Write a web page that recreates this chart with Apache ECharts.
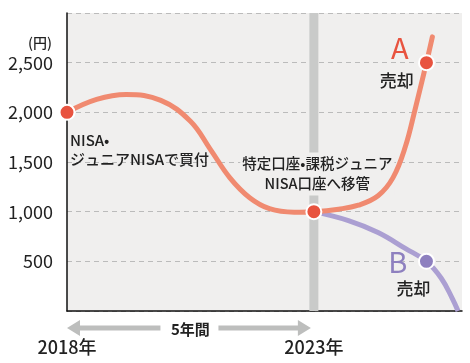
<!DOCTYPE html>
<html><head><meta charset="utf-8">
<script src="https://cdn.jsdelivr.net/npm/echarts@6/dist/echarts.min.js"></script>
<style>html,body{margin:0;padding:0;background:#fff}#c{width:470px;height:363px}</style>
</head><body><div id="c"></div>
<script>
// Curve A (years, 円)
const aYears = [2018, 2018.6, 2019.2, 2019.9, 2020.5, 2020.9, 2021.3, 2021.7, 2022.1, 2022.6, 2023, 2023.5, 2023.9, 2024.3, 2024.6, 2024.85, 2025.05, 2025.28, 2025.4];
const aValues = [2000, 2130, 2180, 2120, 1910, 1630, 1340, 1140, 1030, 995, 1000, 1025, 1065, 1160, 1340, 1650, 2030, 2500, 2760];
// Curve B
const bYears = [2023, 2023.7, 2024.3, 2024.85, 2025.28, 2025.58, 2025.8, 2025.92];
const bValues = [1000, 910, 790, 630, 500, 330, 130, 0];
// Marked points
const redDots = [[2018, 2000], [2023, 1000], [2025.28, 2500]];
const purpleDots = [[2025.28, 500]];
const yearTicks = [2018, 2023];
const yTicks = [500, 1000, 1500, 2000, 2500];

const FONT = '"Noto Sans CJK JP", "Noto Sans", sans-serif';
const chart = echarts.init(document.getElementById('c'), null, {renderer: 'canvas'});
const zip = (xs, ys) => xs.map((x, i) => [x, ys[i]]);

chart.setOption({
  animation: false,
  textStyle: {fontFamily: FONT},
  grid: {left: 67, right: 8, top: 13, bottom: 52, show: true, backgroundColor: '#f0efee', borderWidth: 0},
  xAxis: {
    type: 'value', min: 2018, max: 2026,
    axisLine: {show: true, onZero: false, lineStyle: {color: '#111', width: 1.5}},
    axisTick: {show: false},
    splitLine: {show: false},
    axisLabel: {
      customValues: yearTicks, margin: 27, fontSize: 18, color: '#222', fontFamily: FONT, fontWeight: 500,
      formatter: v => v + '年'
    }
  },
  yAxis: {
    type: 'value', min: 0, max: 3000, interval: 500,
    axisLine: {show: true, lineStyle: {color: '#111', width: 1.5}},
    axisTick: {show: false},
    splitLine: {show: true, lineStyle: {color: '#bbbbbb', type: [5, 4], width: 1}},
    axisLabel: {
      margin: 14, fontSize: 18, color: '#222', fontFamily: FONT,
      formatter: v => yTicks.includes(v) ? v.toLocaleString('en-US') : ''
    }
  },
  series: [
    {type: 'line', data: [[2023, 0], [2023, 3000]], symbol: 'none', silent: true, z: 1,
     lineStyle: {color: '#c9cac9', width: 9}},
    {type: 'line', data: zip(bYears, bValues), smooth: 0.4, symbol: 'none', z: 3,
     lineStyle: {color: '#ab9fd2', width: 5}},
    {type: 'line', data: zip(aYears, aValues), smooth: 0.4, symbol: 'none', z: 4,
     lineStyle: {color: '#f08a70', width: 5, cap: 'round'}},
    {type: 'scatter', data: redDots, symbolSize: 15, z: 5,
     itemStyle: {color: '#e8533f', borderColor: '#fff', borderWidth: 2, opacity: 1}},
    {type: 'scatter', data: purpleDots, symbolSize: 15, z: 5,
     itemStyle: {color: '#8e80bf', borderColor: '#fff', borderWidth: 2, opacity: 1}}
  ]
});

const P = (x, y) => chart.convertToPixel({gridIndex: 0}, [x, y]);
const txt = (x, y, text, o) => {
  const p = P(x, y);
  return {type: 'text', z: o.z || 10, x: p[0] + (o.dx || 0), y: p[1], style: Object.assign({
    text, fontFamily: FONT, fontSize: 15, fill: '#222', fontWeight: 500,
    align: 'center', verticalAlign: 'middle'
  }, o.style || {})};
};
const arrowY = -170;
const a0 = P(2018, arrowY), a1 = P(2023, arrowY);
const mid = (a0[0] + a1[0]) / 2;
const ay = a0[1];
const gray = '#bdbebd';
chart.setOption({graphic: [
  txt(2018, 1620, 'NISA•\nジュニアNISAで買付', {dx: 3, style: {align: 'left', lineHeight: 19}}),
  txt(2023.07, 1380, '特定口座•課税ジュニア\nNISA口座へ移管', {z: 2, style: {fontSize: 14.5, lineHeight: 20, backgroundColor: '#f0efee', padding: [2, 2, 1, 2]}}),
  txt(2024.74, 2650, 'A', {style: {fontSize: 29, fill: '#e8533f', fontWeight: 400}}),
  txt(2024.68, 2320, '売却', {style: {fontSize: 17}}),
  txt(2024.70, 490, 'B', {style: {fontSize: 29, fill: '#8e80bf', fontWeight: 400}}),
  txt(2025.02, 230, '売却', {style: {fontSize: 17}}),
  txt(2018, 2700, '(円)', {dx: -27, style: {fontSize: 14}}),
  txt(2020.5, arrowY - 10, '5年間', {style: {fontSize: 15, fontWeight: 'bold'}}),
  {type: 'rect', z: 9, shape: {x: a0[0] + 12, y: ay - 2.5, width: mid - 30 - a0[0] - 12, height: 5}, style: {fill: gray}},
  {type: 'polygon', z: 9, shape: {points: [[a0[0], ay], [a0[0] + 13, ay - 8], [a0[0] + 13, ay + 8]]}, style: {fill: gray}},
  {type: 'rect', z: 9, shape: {x: mid + 28, y: ay - 2.5, width: a1[0] - 12 - mid - 28, height: 5}, style: {fill: gray}},
  {type: 'polygon', z: 9, shape: {points: [[a1[0] - 3, ay], [a1[0] - 16, ay - 8], [a1[0] - 16, ay + 8]]}, style: {fill: gray}}
]});
</script></body></html>
